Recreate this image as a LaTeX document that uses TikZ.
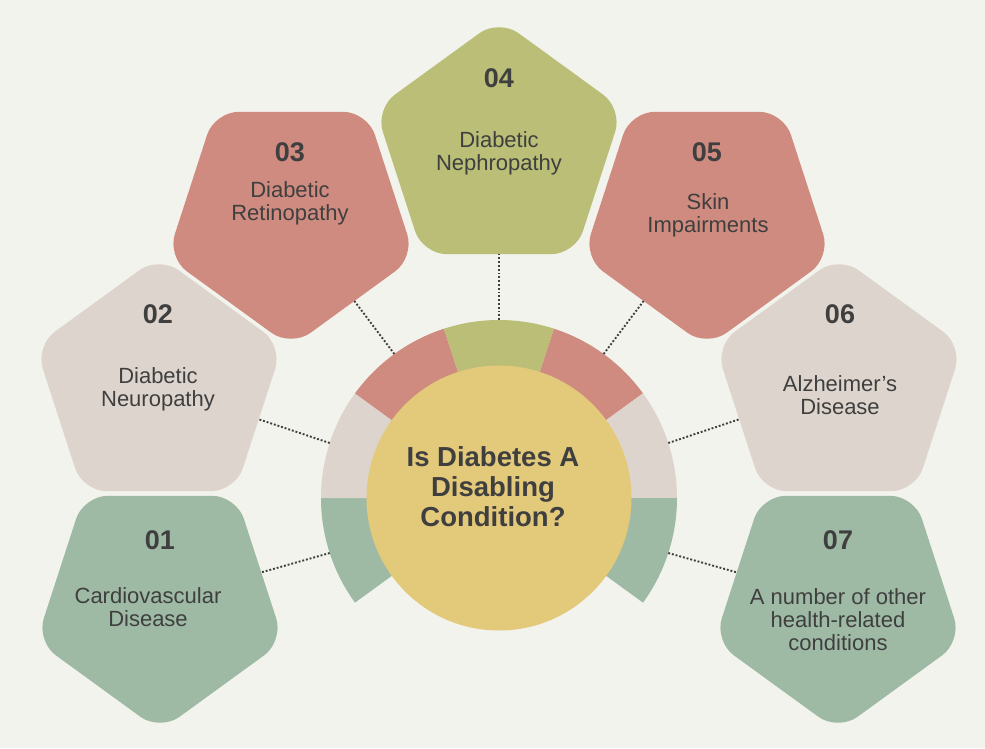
\documentclass[tikz,border=0pt]{standalone}
\usepackage{fontspec}
\setmainfont{Liberation Sans}
\usetikzlibrary{shapes.geometric}
\definecolor{PageBg}{HTML}{F2F3EC}
\definecolor{SageGreen}{HTML}{9EBAA4}
\definecolor{StoneBeige}{HTML}{DDD5CD}
\definecolor{DustyRose}{HTML}{CF8B7F}
\definecolor{OliveGreen}{HTML}{BABE76}
\definecolor{MustardYellow}{HTML}{E3C97A}
\definecolor{InkGray}{HTML}{3F3F3F}

\tikzset{
  pent/.style={regular polygon, regular polygon sides=5, minimum size=260pt,
    inner sep=0pt, outer sep=0pt, rounded corners=24pt},
  pentdown/.style={pent, shape border rotate=180},
  numlabel/.style={text=InkGray, font=\bfseries\fontsize{27}{28}\selectfont},
  desclabel/.style={text=InkGray, align=center, font=\fontsize{22}{23}\selectfont},
  link/.style={draw=InkGray, line width=1.9pt, dash pattern=on 1.9pt off 1.9pt},
}

\begin{document}
\begin{tikzpicture}[x=1pt,y=1pt]
  \fill[PageBg] (-499,-250) rectangle (486,498);
  \useasboundingbox (-499,-250) rectangle (486,498);

  % ring around the hub
  \fill[SageGreen]  (0,0) -- (180:178) arc[start angle=180, end angle=216, radius=178pt] -- cycle;
  \fill[StoneBeige] (0,0) -- (144:178) arc[start angle=144, end angle=180, radius=178pt] -- cycle;
  \fill[DustyRose]  (0,0) -- (108:178) arc[start angle=108, end angle=144, radius=178pt] -- cycle;
  \fill[OliveGreen] (0,0) -- (72:178) arc[start angle=72, end angle=108, radius=178pt] -- cycle;
  \fill[DustyRose]  (0,0) -- (36:178) arc[start angle=36, end angle=72, radius=178pt] -- cycle;
  \fill[StoneBeige] (0,0) -- (0:178) arc[start angle=0, end angle=36, radius=178pt] -- cycle;
  \fill[SageGreen]  (0,0) -- (-36:178) arc[start angle=-36, end angle=0, radius=178pt] -- cycle;

  \node[circle, fill=MustardYellow, minimum size=265pt, inner sep=0pt] (hub) at (0,0) {};
  \node[text=InkGray, align=center, font=\bfseries\fontsize{27.5}{30}\selectfont] (title) at (-6,11)
    {Is Diabetes A\\Disabling\\Condition?};

  % pentagons
  \node[pentdown, fill=SageGreen]  (p1) at (-339,-103) {};
  \node[pent,     fill=StoneBeige] (p2) at (-340,112) {};
  \node[pentdown, fill=DustyRose]  (p3) at (-208,281) {};
  \node[pent,     fill=OliveGreen] (p4) at (0,349) {};
  \node[pentdown, fill=DustyRose]  (p5) at (208,281) {};
  \node[pent,     fill=StoneBeige] (p6) at (340,112) {};
  \node[pentdown, fill=SageGreen]  (p7) at (339,-103) {};

  \node[numlabel] (n1) at (-339,-42) {01};
  \node[desclabel] (d1) at (-351,-109) {Cardiovascular\\Disease};
  \node[numlabel] (n2) at (-341,184) {02};
  \node[desclabel] (d2) at (-341,109) {Diabetic\\Neuropathy};
  \node[numlabel] (n3) at (-209,346) {03};
  \node[desclabel] (d3) at (-209,295) {Diabetic\\Retinopathy};
  \node[numlabel] (n4) at (0,420) {04};
  \node[desclabel] (d4) at (0,345) {Diabetic\\Nephropathy};
  \node[numlabel] (n5) at (208,346) {05};
  \node[desclabel] (d5) at (209,283) {Skin\\Impairments};
  \node[numlabel] (n6) at (341,184) {06};
  \node[desclabel] (d6) at (341,103) {Alzheimer’s\\Disease};
  \node[numlabel] (n7) at (339,-42) {07};
  \node[desclabel] (d7) at (339,-122) {A number of other\\health-related\\conditions};

  % dotted spokes
  \coordinate (r1) at (198:178);
  \coordinate (r2) at (162:178);
  \coordinate (r3) at (126:178);
  \coordinate (r4) at (90:178);
  \coordinate (r5) at (54:178);
  \coordinate (r6) at (18:178);
  \coordinate (r7) at (-18:178);
  \draw[link] (r1) -- (p1);
  \draw[link] (r2) -- (p2);
  \draw[link] (r3) -- (p3);
  \draw[link] (r4) -- (p4);
  \draw[link] (r5) -- (p5);
  \draw[link] (r6) -- (p6);
  \draw[link] (r7) -- (p7);
\end{tikzpicture}
\end{document}
